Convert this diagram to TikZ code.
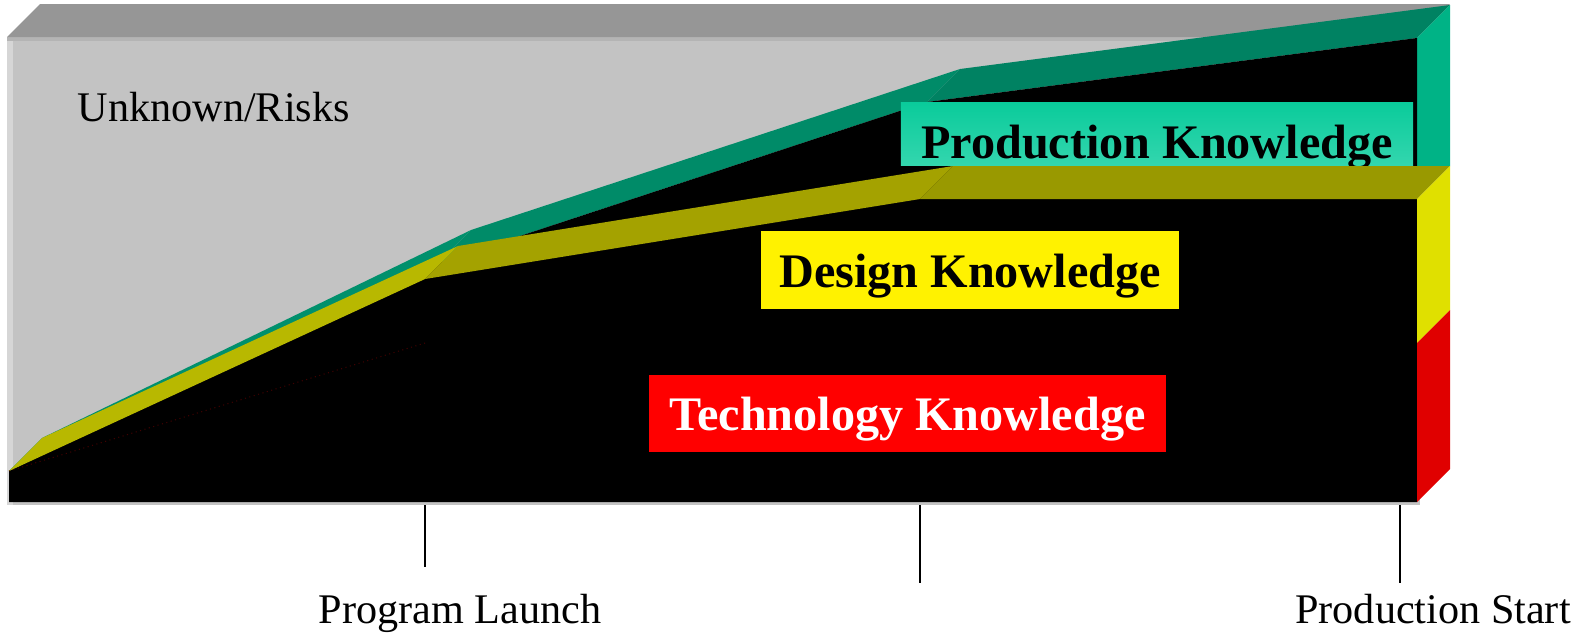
\documentclass[tikz,border=0pt]{standalone}
\usepackage{fontspec}
\setmainfont{Liberation Serif}
\usepackage{tikz}
\usetikzlibrary{calc}

\definecolor{topgray}{HTML}{969696}
\definecolor{frontgray}{HTML}{C3C3C3}
\definecolor{edgegray}{HTML}{B4B4B4}
\definecolor{leftgray}{HTML}{D6D6D6}
\definecolor{greenA}{HTML}{00906C}
\definecolor{greenB}{HTML}{008B68}
\definecolor{greenC}{HTML}{008262}
\definecolor{greenSide}{HTML}{00B386}
\definecolor{yellowA}{HTML}{B8B800}
\definecolor{yellowB}{HTML}{A4A200}
\definecolor{yellowC}{HTML}{999900}
\definecolor{yellowSide}{HTML}{E0E000}
\definecolor{redSide}{HTML}{E00000}
\definecolor{prodTop}{HTML}{0ACB9B}
\definecolor{prodBot}{HTML}{33D6AE}

\begin{document}
\begin{tikzpicture}[x=0.01cm,y=-0.01cm,
  knowbox/.style={anchor=base,inner sep=0pt,font=\fontsize{13.7}{16}\selectfont\bfseries},
  plain/.style={inner sep=0pt,font=\fontsize{12}{14}\selectfont},
  tick/.style={line width=0.6pt}]
\def\dx{33}
\def\dy{-33}
\useasboundingbox (0,0) rectangle (1585,632);
% block: front and top
\fill[frontgray] (7,37) rectangle (1420,505);
\fill[edgegray] (7,37) rectangle (1417,41);
\fill[leftgray] (7,41) rectangle (13,505);
\fill[topgray] (7,37) -- ++(\dx,\dy) -- (1450,4) -- (1417,37) -- cycle;
% profile points (front edge)
\coordinate (P0) at (9,471);
\coordinate (P1) at (438,263);
\coordinate (P2) at (927,102);
\coordinate (P3) at (1417,38);
\coordinate (D1) at (425,279);
\coordinate (D2) at (920,199);
\coordinate (D3) at (1417,199);
\coordinate (T1) at (425,343);
\coordinate (T3) at (1417,343);
\coordinate (B3) at (1417,502);
% production layer
\fill[greenA] (P0) -- ([shift={(\dx,\dy)}]P0) -- ([shift={(\dx,\dy)}]P1) -- (P1) -- cycle;
\fill[greenB] (P1) -- ([shift={(\dx,\dy)}]P1) -- ([shift={(\dx,\dy)}]P2) -- (P2) -- cycle;
\fill[greenC] (P2) -- ([shift={(\dx,\dy)}]P2) -- ([shift={(\dx,\dy)}]P3) -- (P3) -- cycle;
\fill[greenSide] (P3) -- ([shift={(\dx,\dy)}]P3) -- ([shift={(\dx,\dy)}]D3) -- (1417,166) -- cycle;
% black front face
\fill[black] (9,502) -- (P0) -- (P1) -- (P2) -- (P3) -- (B3) -- cycle;
\draw[red!25!black, densely dotted, line width=0.3pt] (P0) -- (T1);
\node[knowbox, top color=prodTop, bottom color=prodBot, minimum width=5.12cm,
  text height=0.55cm, text depth=0.07cm] (prodbox) at (1157,158) {Production Knowledge};
% design layer
\fill[yellowA] (P0) -- ([shift={(\dx,\dy)}]P0) -- ([shift={(\dx,\dy)}]D1) -- (D1) -- cycle;
\fill[yellowB] (D1) -- ([shift={(\dx,\dy)}]D1) -- ([shift={(\dx,\dy)}]D2) -- (D2) -- cycle;
\fill[yellowC] (D2) -- ([shift={(\dx,\dy)}]D2) -- ([shift={(\dx,\dy)}]D3) -- (D3) -- cycle;
\fill[yellowSide] (D3) -- ([shift={(\dx,\dy)}]D3) -- ([shift={(\dx,\dy)}]T3) -- (T3) -- cycle;
% technology layer
\fill[redSide] (T3) -- ([shift={(\dx,\dy)}]T3) -- ([shift={(\dx,\dy)}]B3) -- (B3) -- cycle;
\node[knowbox, fill=yellow, minimum width=4.18cm,
  text height=0.56cm, text depth=0.22cm] (designbox) at (970,287) {Design Knowledge};
\node[knowbox, fill=red, text=white, minimum width=5.17cm,
  text height=0.55cm, text depth=0.22cm] (techbox) at (907.5,430) {Technology Knowledge};
\node[plain, anchor=base west] (risks) at (77,121) {Unknown/Risks};
% milestones
\foreach \tx/\tl [count=\i] in {425/567, 920/583, 1400/583} {
  \coordinate (tickA\i) at (\tx,505);
  \coordinate (tickB\i) at (\tx,\tl);
  \draw[tick] (tickA\i) -- (tickB\i);
}
\node[plain, anchor=base] (launch) at (460,623) {Program Launch};
\node[plain, anchor=base] (start) at (1433,623) {Production Start};
\end{tikzpicture}
\end{document}
